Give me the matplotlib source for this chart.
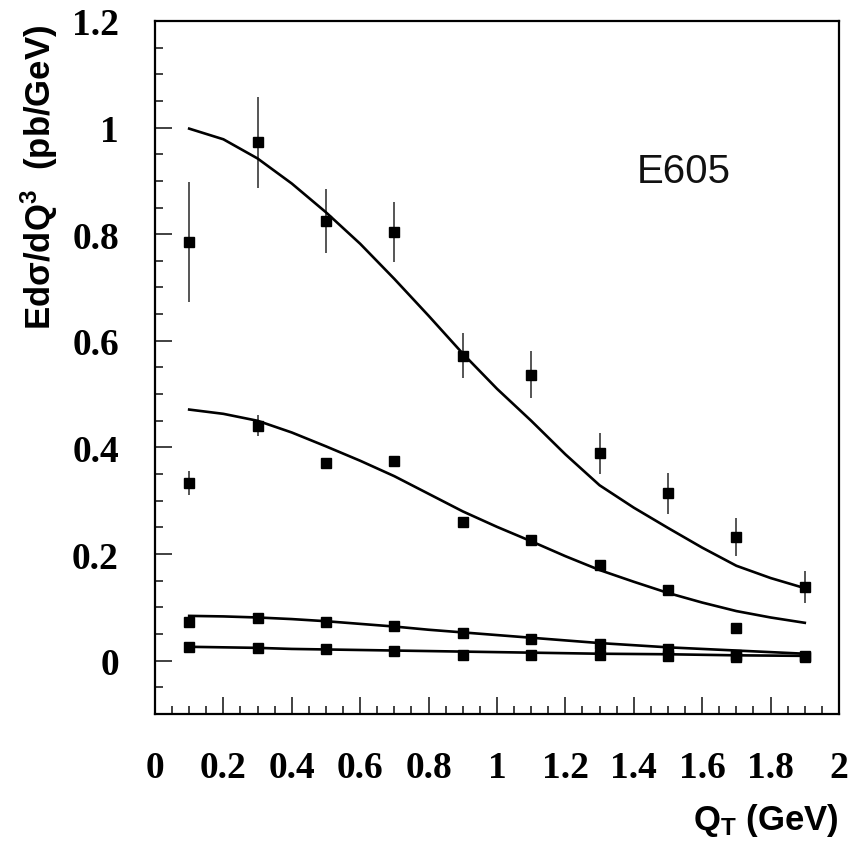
import matplotlib
matplotlib.use("Agg")
import matplotlib.pyplot as plt
import numpy as np
from matplotlib.ticker import MultipleLocator

# Q_T bins (GeV)
qt = [0.1, 0.3, 0.5, 0.7, 0.9, 1.1, 1.3, 1.5, 1.7, 1.9]

# data points, one array per mass bin
s1_y = [0.785, 0.972, 0.824, 0.804, 0.572, 0.536, 0.389, 0.314, 0.232, 0.138]
s1_err = [0.113, 0.086, 0.060, 0.056, 0.042, 0.044, 0.038, 0.038, 0.036, 0.030]

s2_qt = [0.1, 0.3, 0.5, 0.7, 0.9, 1.1, 1.3, 1.5, 1.7]
s2_y = [0.333, 0.441, 0.370, 0.374, 0.260, 0.226, 0.180, 0.133, 0.062]
s2_err = [0.023, 0.020, 0.008, 0.008, 0.005, 0.005, 0.004, 0.004, 0.003]

s3_y = [0.073, 0.080, 0.073, 0.065, 0.052, 0.041, 0.032, 0.022, 0.011, 0.009]
s4_y = [0.026, 0.023, 0.021, 0.018, 0.011, 0.011, 0.010, 0.009, 0.007, 0.007]

# theory curves
c_qt = [0.1, 0.2, 0.3, 0.4, 0.5, 0.6, 0.7, 0.8, 0.9, 1.0,
        1.1, 1.2, 1.3, 1.4, 1.5, 1.6, 1.7, 1.8, 1.9]
c1 = [0.998, 0.978, 0.942, 0.895, 0.841, 0.782, 0.716, 0.647, 0.576, 0.510,
      0.450, 0.387, 0.329, 0.287, 0.249, 0.212, 0.178, 0.155, 0.136]
c2 = [0.471, 0.463, 0.450, 0.428, 0.402, 0.375, 0.346, 0.313, 0.280, 0.251,
      0.224, 0.196, 0.170, 0.148, 0.127, 0.109, 0.093, 0.081, 0.071]
c3 = [0.084, 0.083, 0.081, 0.078, 0.074, 0.069, 0.064, 0.058, 0.053, 0.048,
      0.043, 0.038, 0.033, 0.029, 0.025, 0.022, 0.019, 0.016, 0.013]
c4 = [0.026, 0.025, 0.024, 0.022, 0.021, 0.020, 0.019, 0.018, 0.017, 0.016,
      0.015, 0.014, 0.013, 0.0125, 0.012, 0.011, 0.010, 0.0095, 0.009]

plt.rcParams['mathtext.fontset'] = 'custom'
plt.rcParams['mathtext.rm'] = 'Liberation Sans:bold'
plt.rcParams['mathtext.it'] = 'Liberation Sans:bold'
plt.rcParams['mathtext.bf'] = 'Liberation Sans:bold'

fig = plt.figure(figsize=(8.62, 8.54), dpi=100)
ax = fig.add_axes([0.1798, 0.1628, 0.7935, 0.8115])

for c in [c1, c2, c3, c4]:
    ax.plot(c_qt, c, color='black', lw=1.9, zorder=3)

err_style = dict(fmt='none', ecolor='#555555', elinewidth=1.4, capsize=0, zorder=2)
ax.errorbar(qt, s1_y, yerr=s1_err, **err_style)
ax.errorbar(s2_qt, s2_y, yerr=s2_err, **err_style)

for xs, ys in [(qt, s1_y), (s2_qt, s2_y), (qt, s3_y), (qt, s4_y)]:
    ax.plot(xs, ys, ls='none', marker='s', ms=6.5, color='black', zorder=4)

ax.set_xlim(0, 2)
ax.set_ylim(-0.1, 1.2)
ax.xaxis.set_major_locator(MultipleLocator(0.2))
ax.xaxis.set_minor_locator(MultipleLocator(0.05))
ax.yaxis.set_major_locator(MultipleLocator(0.2))
ax.yaxis.set_minor_locator(MultipleLocator(0.05))

def fmt(v):
    s = f"{v:.1f}"
    return s[:-2] if s.endswith(".0") else s

ax.set_xticks(np.arange(0, 2.01, 0.2))
ax.set_xticklabels([fmt(v) for v in np.arange(0, 2.01, 0.2)])
ax.set_yticks(np.arange(0, 1.21, 0.2))
ax.set_yticklabels([fmt(v) for v in np.arange(0, 1.21, 0.2)])

ax.tick_params(which='both', direction='in', top=False, right=False, width=1.3, color='#333333')
ax.tick_params(which='major', length=12, pad=26)
ax.tick_params(which='minor', length=6)
for lab in ax.get_xticklabels() + ax.get_yticklabels():
    lab.set_family('Liberation Serif')
    lab.set_weight('bold')
    lab.set_fontsize(27)

for sp in ax.spines.values():
    sp.set_linewidth(1.6)

ax.text(1.409, 0.897, "E605", fontsize=29, family='Liberation Sans', color='#111111')

fig.text(0.046, 0.792, "Ed\u03c3/dQ$^{3}$  (pb/GeV)", rotation=90, ha='center', va='center',
         fontsize=25, family='Liberation Sans', weight='bold')
fig.text(0.973, 0.028, "Q$_{\\mathrm{T}}$ (GeV)", ha='right', va='baseline',
         fontsize=25, family='Liberation Sans', weight='bold')

fig.savefig("out.png", dpi=100)
